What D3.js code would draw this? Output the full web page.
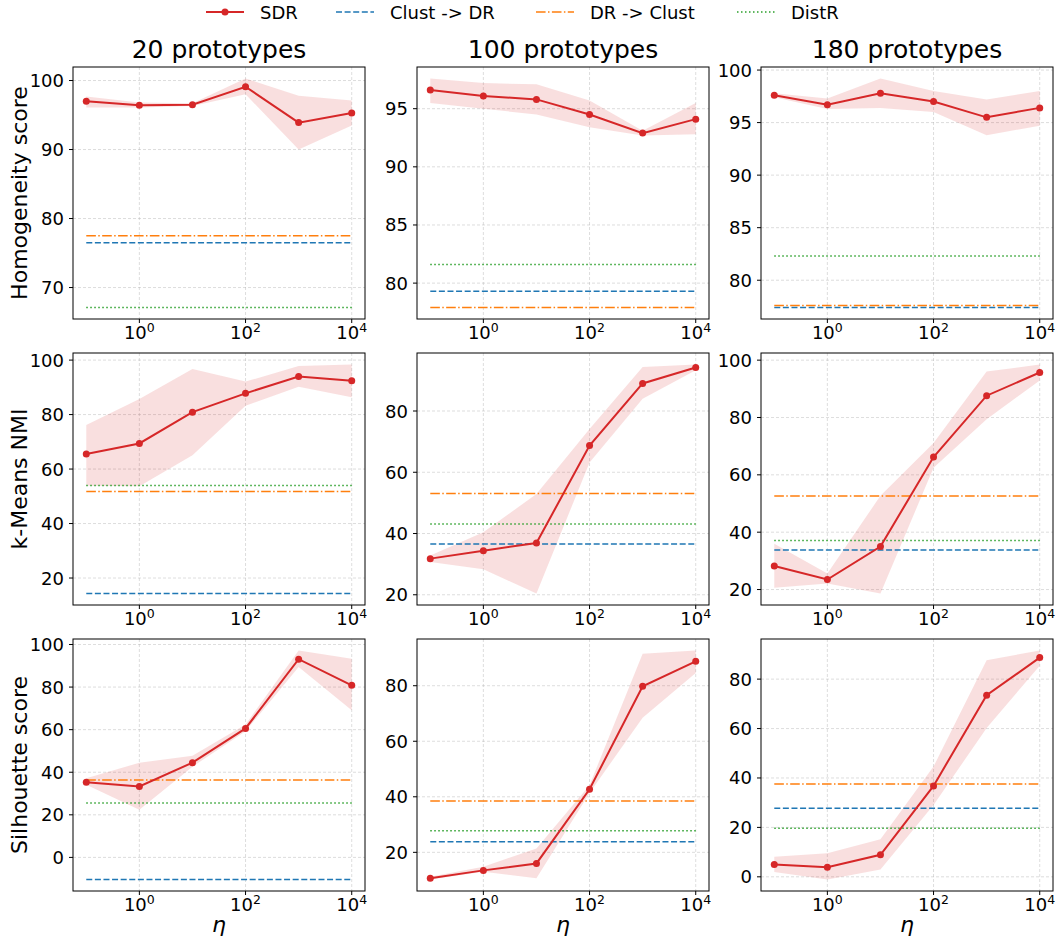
<!DOCTYPE html>
<html>
<head>
<meta charset="utf-8">
<script src="https://cdn.jsdelivr.net/npm/d3@7"></script>
<style>
  body { margin: 0; background: #fff; }
  text { font-family: "DejaVu Sans", sans-serif; fill: #000; }
</style>
</head>
<body>
<script>
const width = 1058;
const height = 941;

// eta values on the x axis
const etas = [0.1, 1, 10, 100, 1000, 10000];
const xTickExps = [0, 2, 4];

const colTitles = ['20 prototypes', '100 prototypes', '180 prototypes'];
const rowLabels = ['Homogeneity score', 'k-Means NMI', 'Silhouette score'];

// SDR mean / band per metric, one array per prototype count
const homMean = [[97.0, 96.4, 96.5, 99.1, 93.9, 95.3], [96.6, 96.1, 95.8, 94.5, 92.9, 94.1], [97.6, 96.7, 97.8, 97.0, 95.5, 96.4]];
const homLow  = [[96.1, 96.1, 96.3, 98.0, 90.0, 93.5], [95.5, 95.0, 94.5, 93.4, 92.7, 92.8], [97.4, 96.3, 96.4, 96.0, 93.8, 94.7]];
const homHigh = [[97.7, 96.8, 96.7, 100.3, 97.8, 97.1], [97.6, 97.2, 97.1, 95.7, 93.1, 95.5], [97.8, 97.3, 99.2, 98.0, 97.2, 98.0]];

const nmiMean = [[65.5, 69.4, 80.9, 87.8, 94.0, 92.4], [31.8, 34.4, 36.9, 68.7, 89.0, 94.2], [28.2, 23.5, 35.0, 66.2, 87.6, 95.7]];
const nmiLow  = [[53.9, 53.7, 65.1, 83.2, 90.2, 86.4], [30.7, 28.3, 20.4, 63.2, 84.0, 93.3], [20.6, 22.1, 18.6, 62.5, 79.4, 92.9]];
const nmiHigh = [[76.2, 85.7, 96.7, 92.1, 97.8, 98.4], [32.8, 40.4, 52.9, 74.1, 94.4, 95.2], [36.0, 25.6, 52.7, 71.1, 96.0, 98.5]];

const silMean = [[35.3, 33.3, 44.5, 60.6, 93.1, 80.8], [10.7, 13.5, 16.0, 42.7, 79.8, 88.8], [5.0, 3.9, 8.9, 36.8, 73.5, 88.7]];
const silLow  = [[34.1, 22.4, 42.6, 59.3, 89.4, 69.1], [10.2, 13.0, 10.7, 41.4, 68.5, 84.6], [2.0, -1.1, 3.0, 29.1, 60.2, 85.4]];
const silHigh = [[37.2, 44.5, 47.8, 62.4, 97.2, 93.3], [11.2, 14.8, 21.4, 44.2, 91.5, 92.7], [8.1, 9.5, 15.2, 44.6, 87.6, 91.6]];

// baselines: rows = metrics, cols = prototypes
const clustToDr = [[76.5, 79.3, 77.4], [14.3, 36.6, 33.8], [-10.4, 23.8, 27.7]];
const drToClust = [[77.5, 77.9, 77.6], [51.8, 53.1, 52.6], [36.3, 38.5, 37.6]];
const distR     = [[67.1, 81.6, 82.3], [54.0, 43.1, 37.1], [25.5, 27.8, 19.7]];

const yTicks = [
  [[70, 80, 90, 100], [80, 85, 90, 95], [80, 85, 90, 95, 100]],
  [[20, 40, 60, 80, 100], [20, 40, 60, 80], [20, 40, 60, 80, 100]],
  [[0, 20, 40, 60, 80, 100], [20, 40, 60, 80], [0, 20, 40, 60, 80]]
];

const means = [homMean, nmiMean, silMean];
const lows = [homLow, nmiLow, silLow];
const highs = [homHigh, nmiHigh, silHigh];

const red = '#d62728', blue = '#1f77b4', orange = '#ff7f0e', green = '#2ca02c';
const baseStyles = [
  {data: clustToDr, color: blue, dash: '6,2.6', name: 'Clust -> DR'},
  {data: drToClust, color: orange, dash: '9.6,2.4,1.5,2.4', name: 'DR -> Clust'},
  {data: distR, color: green, dash: '1.5,2.5', name: 'DistR'}
];

const colLeft = [73, 417, 761];
const rowTop = [67, 353, 639];
const pw = 292, ph = 252;

const svg = d3.select('body').append('svg')
  .attr('width', width)
  .attr('height', height);

// legend
const legend = svg.append('g');
const legItems = [{name: 'SDR', color: red, dash: null, x: 206}].concat(
  baseStyles.map((b, i) => ({name: b.name, color: b.color, dash: b.dash, x: [336, 536, 737][i]})));
legItems.forEach(it => {
  legend.append('line')
    .attr('x1', it.x).attr('x2', it.x + 38)
    .attr('y1', 12).attr('y2', 12)
    .attr('stroke', it.color)
    .attr('stroke-width', it.dash ? 1.5 : 2)
    .attr('stroke-dasharray', it.dash);
  if (!it.dash) {
    legend.append('circle').attr('cx', it.x + 19).attr('cy', 12).attr('r', 3.5).attr('fill', it.color);
  }
  legend.append('text')
    .attr('x', it.x + 54).attr('y', 18.5)
    .style('font-size', '18px')
    .text(it.name);
});

const x = d3.scaleLog()
  .domain([Math.pow(10, -1.25), Math.pow(10, 4.25)]);

for (let r = 0; r < 3; r++) {
  for (let c = 0; c < 3; c++) {
    const g = svg.append('g')
      .attr('transform', `translate(${colLeft[c]}, ${rowTop[r]})`);
    const xs = x.copy().range([0, pw]);

    const mean = means[r][c], lo = lows[r][c], hi = highs[r][c];
    const all = lo.concat(hi, mean, baseStyles.map(b => b.data[r][c]));
    const mn = d3.min(all), mx = d3.max(all);
    const pad = (mx - mn) * 0.05;
    const ys = d3.scaleLinear().domain([mn - pad, mx + pad]).range([ph, 0]);

    // grid
    g.selectAll('.gy').data(yTicks[r][c]).enter().append('line')
      .attr('x1', 0).attr('x2', pw)
      .attr('y1', d => ys(d)).attr('y2', d => ys(d))
      .attr('stroke', '#b0b0b0').attr('stroke-opacity', 0.55)
      .attr('stroke-width', 0.8).attr('stroke-dasharray', '3,2');
    g.selectAll('.gx').data(xTickExps).enter().append('line')
      .attr('x1', d => xs(Math.pow(10, d))).attr('x2', d => xs(Math.pow(10, d)))
      .attr('y1', 0).attr('y2', ph)
      .attr('stroke', '#b0b0b0').attr('stroke-opacity', 0.55)
      .attr('stroke-width', 0.8).attr('stroke-dasharray', '3,2');

    // band
    const area = d3.area()
      .x((d, i) => xs(etas[i]))
      .y0((d, i) => ys(lo[i]))
      .y1((d, i) => ys(hi[i]));
    g.append('path').datum(mean)
      .attr('d', area)
      .attr('fill', red).attr('fill-opacity', 0.15);

    // baselines
    baseStyles.forEach(b => {
      const v = b.data[r][c];
      g.append('line')
        .attr('x1', xs(etas[0])).attr('x2', xs(etas[etas.length - 1]))
        .attr('y1', ys(v)).attr('y2', ys(v))
        .attr('stroke', b.color).attr('stroke-width', 1.5)
        .attr('stroke-dasharray', b.dash);
    });

    // SDR line
    const line = d3.line()
      .x((d, i) => xs(etas[i]))
      .y(d => ys(d));
    g.append('path').datum(mean)
      .attr('d', line)
      .attr('fill', 'none').attr('stroke', red).attr('stroke-width', 2);
    g.selectAll('.pt').data(mean).enter().append('circle')
      .attr('cx', (d, i) => xs(etas[i]))
      .attr('cy', d => ys(d))
      .attr('r', 3.5).attr('fill', red);

    // frame
    g.append('rect')
      .attr('width', pw).attr('height', ph)
      .attr('fill', 'none').attr('stroke', '#000').attr('stroke-width', 1);

    // y ticks
    yTicks[r][c].forEach(t => {
      g.append('line').attr('x1', -4).attr('x2', 0)
        .attr('y1', ys(t)).attr('y2', ys(t)).attr('stroke', '#000');
      g.append('text')
        .attr('x', -9).attr('y', ys(t) + 6.5)
        .attr('text-anchor', 'end')
        .style('font-size', '18px')
        .text(t);
    });

    // x ticks
    xTickExps.forEach(e => {
      const px = xs(Math.pow(10, e));
      g.append('line').attr('x1', px).attr('x2', px)
        .attr('y1', ph).attr('y2', ph + 4).attr('stroke', '#000');
      const t = g.append('text')
        .attr('x', px).attr('y', ph + 19.5)
        .attr('text-anchor', 'middle')
        .style('font-size', '18px');
      t.append('tspan').text('10');
      t.append('tspan').attr('dy', -7).style('font-size', '12.5px').text(e);
    });

    if (r === 0) {
      svg.append('text')
        .attr('x', colLeft[c] + pw / 2).attr('y', 58)
        .attr('text-anchor', 'middle')
        .style('font-size', '25px')
        .text(colTitles[c]);
    }
    if (c === 0) {
      svg.append('text')
        .attr('transform', `translate(27, ${rowTop[r] + ph / 2}) rotate(-90)`)
        .attr('text-anchor', 'middle')
        .style('font-size', '22px')
        .text(rowLabels[r]);
    }
    if (r === 2) {
      svg.append('text')
        .attr('x', colLeft[c] + pw / 2).attr('y', 932)
        .attr('text-anchor', 'middle')
        .style('font-size', '22px')
        .style('font-style', 'italic')
        .text('η');
    }
  }
}
</script>
</body>
</html>
